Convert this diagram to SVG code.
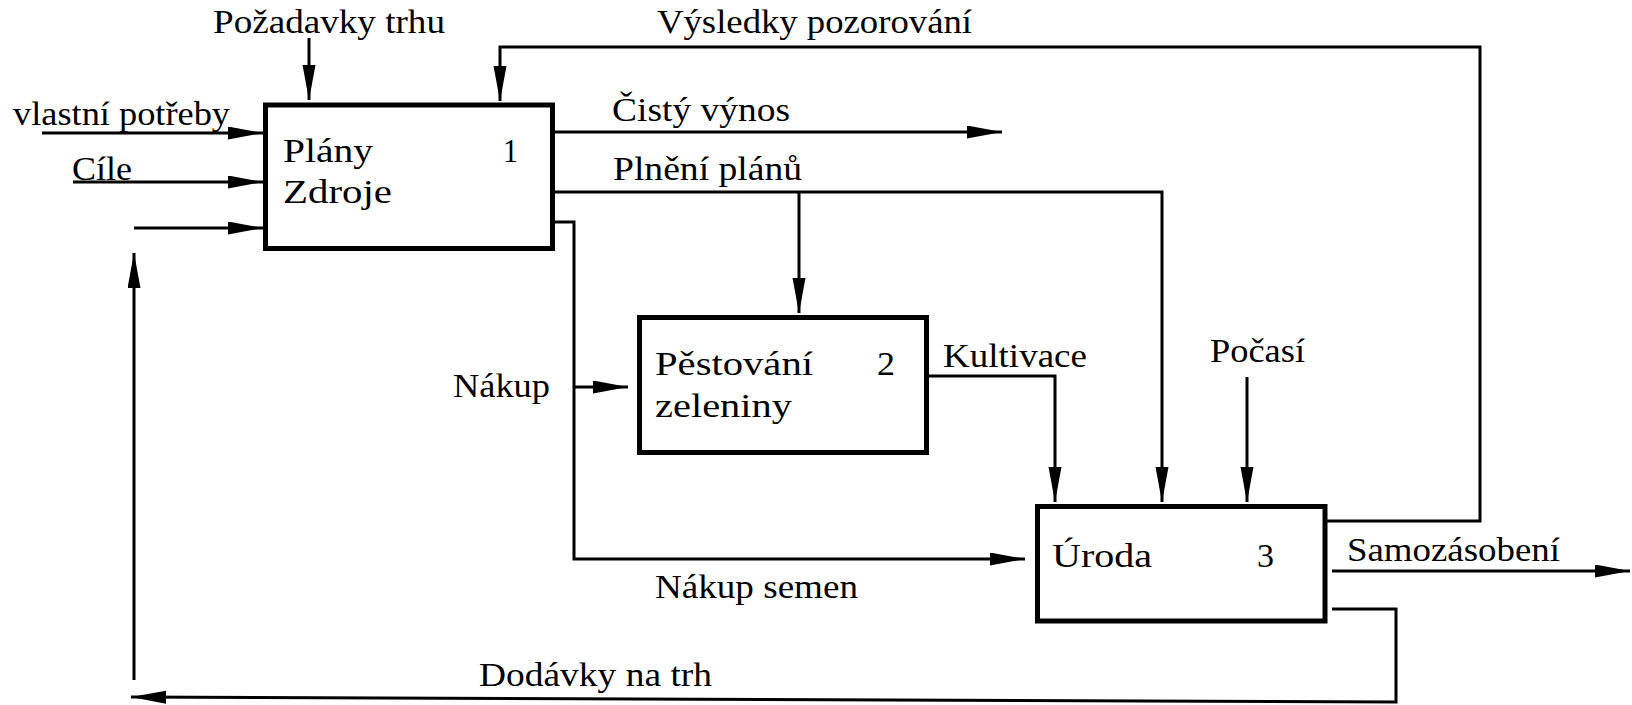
<svg xmlns="http://www.w3.org/2000/svg" width="1632" height="705" viewBox="0 0 1632 705">
<style>
  .box { fill: #fff; stroke: #000; stroke-width: 5; }
  .c { fill: none; stroke: #000; stroke-width: 3; }
  .a { marker-end: url(#ah); }
  .t { font-family: "Liberation Serif", "Times New Roman", Times, serif; font-size: 33px; fill: #000; }
</style>
<defs>
  <marker id="ah" markerUnits="userSpaceOnUse" markerWidth="36" markerHeight="14" refX="35" refY="6.5" orient="auto">
    <path d="M0,0 L35,6.5 L0,13 z" fill="#000"/>
  </marker>
</defs>
<rect width="1632" height="705" fill="#fff"/>
<g id="connectors">
  <polyline class="c a" points="309,38 309,100"/>
  <polyline class="c a" points="1322,521 1480,521 1480,47 500,47 500,101"/>
  <polyline class="c a" points="42,133 263,133"/>
  <polyline class="c a" points="73,182 263,182"/>
  <polyline class="c a" points="134,228 263,228"/>
  <polyline class="c a" points="1332,609 1396,609 1396,702 131,697"/>
  <polyline class="c a" points="134,680 134,253"/>
  <polyline class="c a" points="555,132 1002,132"/>
  <polyline class="c a" points="555,192 1162,192 1162,502"/>
  <polyline class="c a" points="799,192 799,313"/>
  <polyline class="c a" points="555,222 574,222 574,559 1025,559"/>
  <polyline class="c a" points="574,387 628,387"/>
  <polyline class="c a" points="929,376 1055,376 1055,502"/>
  <polyline class="c a" points="1247,377 1247,502"/>
  <polyline class="c a" points="1332,571 1630,571"/>
</g>
<g id="labels">
  <text class="t" x="213" y="33" textLength="232" lengthAdjust="spacingAndGlyphs">Požadavky trhu</text>
  <text class="t" x="657" y="33" textLength="315" lengthAdjust="spacingAndGlyphs">Výsledky pozorování</text>
  <text class="t" x="13" y="125" textLength="217" lengthAdjust="spacingAndGlyphs">vlastní potřeby</text>
  <text class="t" x="72" y="180" textLength="60" lengthAdjust="spacingAndGlyphs">Cíle</text>
  <text class="t" x="612" y="121" textLength="178" lengthAdjust="spacingAndGlyphs">Čistý výnos</text>
  <text class="t" x="613" y="180" textLength="189" lengthAdjust="spacingAndGlyphs">Plnění plánů</text>
  <text class="t" x="453" y="397" textLength="97" lengthAdjust="spacingAndGlyphs">Nákup</text>
  <text class="t" x="943" y="367" textLength="144" lengthAdjust="spacingAndGlyphs">Kultivace</text>
  <text class="t" x="1210" y="362" textLength="95" lengthAdjust="spacingAndGlyphs">Počasí</text>
  <text class="t" x="1347" y="561" textLength="213" lengthAdjust="spacingAndGlyphs">Samozásobení</text>
  <text class="t" x="655" y="598" textLength="203" lengthAdjust="spacingAndGlyphs">Nákup semen</text>
  <text class="t" x="479" y="686" textLength="233" lengthAdjust="spacingAndGlyphs">Dodávky na trh</text>
</g>
<g id="node1">
  <rect class="box" x="265.5" y="105" width="287" height="143.5"/>
  <text class="t" x="283" y="162" textLength="90" lengthAdjust="spacingAndGlyphs">Plány</text>
  <text class="t" x="283" y="203" textLength="109" lengthAdjust="spacingAndGlyphs">Zdroje</text>
  <text class="t" x="503" y="162" textLength="15" lengthAdjust="spacingAndGlyphs">1</text>
</g>
<g id="node2">
  <rect class="box" x="639.5" y="317.5" width="287" height="135"/>
  <text class="t" x="655" y="375" textLength="158" lengthAdjust="spacingAndGlyphs">Pěstování</text>
  <text class="t" x="655" y="417" textLength="137" lengthAdjust="spacingAndGlyphs">zeleniny</text>
  <text class="t" x="877" y="375" textLength="18" lengthAdjust="spacingAndGlyphs">2</text>
</g>
<g id="node3">
  <rect class="box" x="1037.5" y="506.5" width="287.5" height="114.5"/>
  <text class="t" x="1052" y="567" textLength="100" lengthAdjust="spacingAndGlyphs">Úroda</text>
  <text class="t" x="1257" y="567" textLength="17" lengthAdjust="spacingAndGlyphs">3</text>
</g>
</svg>
